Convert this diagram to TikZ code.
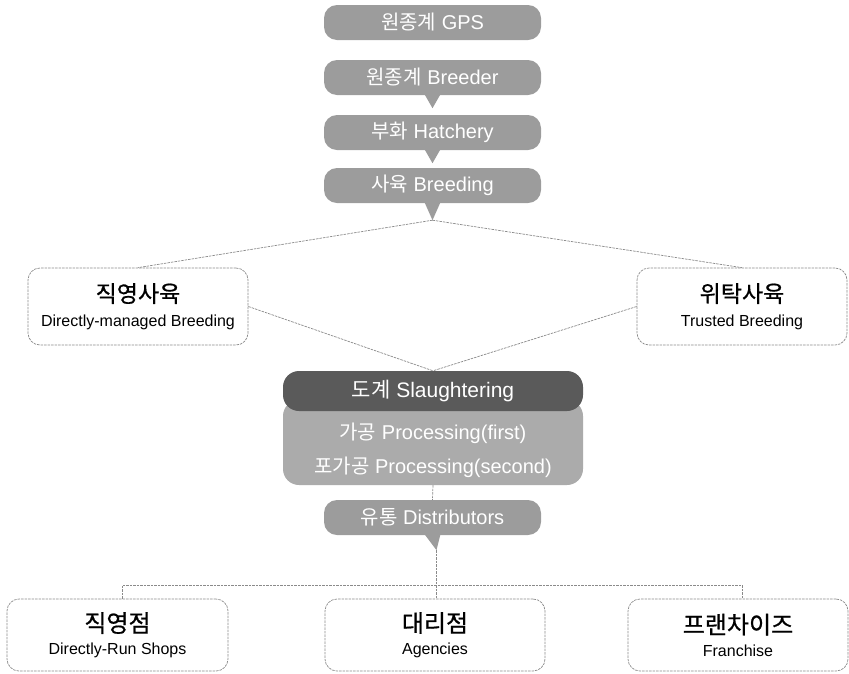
\documentclass[tikz,border=0pt]{standalone}
\usepackage{fontspec}
\setmainfont{Liberation Sans}
\newfontfamily\kr{Noto Sans CJK KR}
\newfontfamily\krt[FakeBold=0.7]{Noto Sans CJK KR}
\usetikzlibrary{calc}
\definecolor{pillgray}{HTML}{9C9C9C}
\definecolor{darkgray2}{HTML}{5A5A5A}
\definecolor{lightgray2}{HTML}{ABABAB}
\definecolor{linegray}{HTML}{8A8A8A}
\begin{document}
\begin{tikzpicture}[x=1pt,y=-1pt,
  pill/.style={fill=pillgray, text=white, rounded corners=13pt, minimum width=217pt,
    minimum height=35pt, inner sep=0pt, font=\fontsize{20}{24}\selectfont},
  pointer/.style={fill=pillgray},
  conn/.style={draw=linegray, line width=0.7pt, dash pattern=on 2.5pt off 1pt},
  box/.style={draw=linegray, line width=0.7pt, dash pattern=on 2.5pt off 1pt,
    rounded corners=12pt, align=center, inner sep=0pt},
]
\useasboundingbox (0,0) rectangle (849,673);

% top chain of pills
\node[pill] (gps) at (432.5,22.5) {{\kr 원종계} GPS};
\node[pill] (bre) at (432.5,77.5) {{\kr 원종계} Breeder};
\node[pill] (hat) at (432.5,132.5) {{\kr 부화} Hatchery};
\node[pill] (brd) at (432.5,185.5) {{\kr 사육} Breeding};

\fill[pointer] ($(bre.south)+(-8,-1)$) -- ($(bre.south)+(0,13)$) -- ($(bre.south)+(8,-1)$) -- cycle;
\fill[pointer] ($(hat.south)+(-8,-1)$) -- ($(hat.south)+(0,13)$) -- ($(hat.south)+(8,-1)$) -- cycle;
\fill[pointer] ($(brd.south)+(-8,-1)$) -- ($(brd.south)+(0,17)$) -- ($(brd.south)+(8,-1)$) -- cycle;
\coordinate (brtip) at ($(brd.south)+(0,17)$);

% breeding boxes
\node[box, minimum width=220pt, minimum height=77pt] (dmb) at (138,306.5)
  {{\krt\fontsize{23}{26}\selectfont 직영사육}\\[10pt]{\fontsize{16}{18}\selectfont Directly-managed Breeding}};
\node[box, minimum width=210pt, minimum height=77pt] (trb) at (742,306.5)
  {{\krt\fontsize{23}{26}\selectfont 위탁사육}\\[10pt]{\fontsize{16}{18}\selectfont Trusted Breeding}};

% slaughtering / processing block
\node[fill=lightgray2, rounded corners=16pt, minimum width=300pt, minimum height=85pt,
  inner sep=0pt, text=white, align=center, font=\fontsize{20}{34}\selectfont] (pro) at (433,442.5)
  {\\[-2pt]{\kr 가공} Processing(first)\\{\kr 포가공} Processing(second)};
\node[fill=darkgray2, rounded corners=16pt, minimum width=300pt, minimum height=40pt,
  inner sep=0pt, text=white, font=\fontsize{21}{25}\selectfont] (sla) at (433,391)
  {{\kr 도계} Slaughtering};

\draw[conn] (brtip) -- (dmb.north);
\draw[conn] (brtip) -- (trb.north);
\draw[conn] (dmb.east) -- (sla.north);
\draw[conn] (trb.west) -- (sla.north);

% distributors
\node[pill] (dis) at (432.5,517.5) {{\kr 유통} Distributors};
\draw[conn] (pro.south) -- (dis.north);
\fill[pointer] ($(dis.south)+(-8,-1)$) -- ($(dis.south)+(4,15)$) -- ($(dis.south)+(8,-1)$) -- cycle;
\coordinate (ditip) at ($(dis.south)+(4,15)$);

% shop boxes
\node[box, minimum width=221pt, minimum height=72pt] (shp) at (117.5,635)
  {{\krt\fontsize{24}{28}\selectfont 직영점}\\[8pt]{\fontsize{16}{18}\selectfont Directly-Run Shops}};
\node[box, minimum width=220pt, minimum height=72pt] (agn) at (435,635)
  {{\krt\fontsize{24}{28}\selectfont 대리점}\\[8pt]{\fontsize{16}{18}\selectfont Agencies}};
\node[box, minimum width=220pt, minimum height=72pt] (frn) at (738,635)
  {{\krt\fontsize{24}{28}\selectfont 프랜차이즈}\\[8pt]{\fontsize{16}{18}\selectfont Franchise}};

\coordinate (bus) at (0,585);
\draw[conn] ([xshift=5pt]shp.north) -- ([xshift=5pt]shp.north |- bus) -- ([xshift=4pt]frn.north |- bus) -- ([xshift=4pt]frn.north);
\draw[conn] (ditip) -- (ditip |- agn.north);
\end{tikzpicture}
\end{document}
